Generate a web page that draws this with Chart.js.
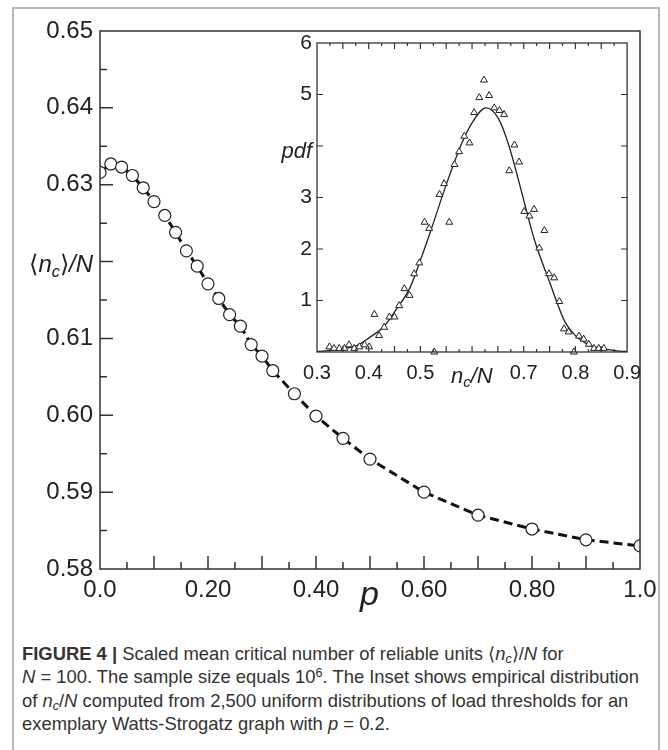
<!DOCTYPE html>
<html>
<head>
<meta charset="utf-8">
<script src="https://cdn.jsdelivr.net/npm/chart.js@4.4.1/dist/chart.umd.min.js"></script>
<style>
  body { margin: 0; background: #fff; }
  .page { position: relative; width: 668px; height: 750px; overflow: hidden; background: #fff; font-family: "Liberation Sans", Arial, sans-serif; color: #222; }
  .frame { position: absolute; left: 12px; top: 7px; width: 648px; height: 800px; border: 2px solid #b8b8b8; box-sizing: border-box; }
  canvas { position: absolute; }
  .lbl { position: absolute; line-height: 1; white-space: nowrap; font-style: italic; }
  .lbl sub, .caption sub { font-size: 0.68em; vertical-align: -0.28em; line-height: 0; }
  .caption sub { vertical-align: -0.2em; }
  .caption sup { font-size: 0.68em; vertical-align: 0.45em; line-height: 0; }
  .up { font-style: normal; }
  .caption { position: absolute; left: 22px; top: 642px; font-size: 18.4px; line-height: 23.3px; color: #333; white-space: nowrap; }
</style>
</head>
<body>
<div class="page">
  <div class="frame"></div>
  <canvas id="main" width="668" height="630" style="left:0;top:0;width:668px;height:630px"></canvas>
  <canvas id="inset" width="390" height="380" style="left:260px;top:20px;width:390px;height:380px"></canvas>

  <div class="lbl" style="right:575px;top:252px;font-size:24px"><span class="up">⟨</span>n<sub>c</sub><span class="up">⟩</span>/N</div>
  <div class="lbl" style="left:360px;top:576px;font-size:34px">p</div>
  <div class="lbl" style="right:356px;top:140px;font-size:22px">pdf</div>
  <div class="lbl" style="left:451px;top:365px;font-size:22px">n<sub>c</sub>/N</div>

  <div class="caption">
    <b>FIGURE 4 |</b> Scaled mean critical number of reliable units ⟨<i>n<sub>c</sub></i>⟩/<i>N</i> for<br>
    <i>N</i> = 100. The sample size equals 10<sup>6</sup>. The Inset shows empirical distribution<br>
    of <i>n<sub>c</sub></i>/<i>N</i> computed from 2,500 uniform distributions of load thresholds for an<br>
    exemplary Watts-Strogatz graph with <i>p</i> = 0.2.
  </div>
</div>

<script>
// main panel: scaled mean critical number vs rewiring probability p
const pValues = [0, 0.02, 0.04, 0.06, 0.08, 0.10, 0.12, 0.14, 0.16, 0.18, 0.20, 0.22, 0.24,
  0.26, 0.28, 0.30, 0.32, 0.36, 0.40, 0.45, 0.50, 0.60, 0.70, 0.80, 0.90, 1.0];
const meanNc = [0.6316, 0.6327, 0.6323, 0.6312, 0.6296, 0.6278, 0.6260, 0.6238, 0.6214, 0.6194,
  0.6171, 0.6152, 0.6131, 0.6116, 0.6092, 0.6077, 0.6058, 0.6028, 0.5999, 0.5970, 0.5943,
  0.5900, 0.5870, 0.5852, 0.5838, 0.5830];
const mainXLabels = { 0: "0.0", 0.2: "0.20", 0.4: "0.40", 0.6: "0.60", 0.8: "0.80", 1: "1.0" };
const mainYLabels = ["0.58", "0.59", "0.60", "0.61", "0.63", "0.64", "0.65"];

// inset: empirical pdf of n_c/N (p = 0.2) and fitted curve
const pdfX = [0.324, 0.333, 0.343, 0.353, 0.362, 0.372, 0.382, 0.392, 0.401, 0.411, 0.420, 0.430,
  0.440, 0.450, 0.459, 0.469, 0.479, 0.488, 0.498, 0.508, 0.517, 0.527, 0.537, 0.546, 0.556,
  0.566, 0.575, 0.585, 0.595, 0.604, 0.614, 0.623, 0.633, 0.643, 0.653, 0.662, 0.672, 0.682,
  0.691, 0.701, 0.711, 0.720, 0.730, 0.740, 0.749, 0.759, 0.769, 0.778, 0.787, 0.797, 0.807,
  0.816, 0.826, 0.836, 0.845, 0.855];
const pdfY = [0.10, 0.07, 0.07, 0.07, 0.14, 0.07, 0.10, 0.14, 0.10, 0.73, 0.32, 0.48,
  0.68, 0.68, 0.90, 1.23, 1.10, 1.52, 1.73, 2.52, 2.40, 0.00, 3.06, 3.27, 2.52,
  3.64, 3.89, 4.19, 4.06, 4.65, 4.94, 5.28, 4.98, 4.74, 4.69, 4.61, 3.52, 4.02,
  3.69, 2.73, 2.64, 2.77, 2.02, 2.36, 1.52, 1.44, 0.98, 0.45, 0.39, 0.00, 0.31,
  0.25, 0.15, 0.07, 0.07, 0.07];
const fitX = [0.30, 0.33, 0.35, 0.38, 0.40, 0.43, 0.45, 0.48, 0.50, 0.52, 0.55, 0.58, 0.60,
  0.627, 0.65, 0.67, 0.70, 0.72, 0.75, 0.78, 0.80, 0.83, 0.85, 0.88, 0.90];
const fitY = [0.01, 0.03, 0.06, 0.14, 0.27, 0.50, 0.78, 1.25, 1.78, 2.35, 3.25, 4.05, 4.45,
  4.74, 4.55, 4.05, 2.95, 2.20, 1.36, 0.58, 0.32, 0.12, 0.07, 0.02, 0.01];
const insetXLabels = { 0.3: "0.3", 0.4: "0.4", 0.5: "0.5", 0.7: "0.7", 0.8: "0.8", 0.9: "0.9" };
const insetYLabels = ["1", "2", "3", "5", "6"];

const ink = "#222";

function isMult(v, m) {
  const r = v / m;
  return Math.abs(r - Math.round(r)) < 1e-6;
}
function pick(obj, v) {
  for (const k in obj) if (Math.abs(+k - v) < 1e-6) return obj[k];
  return "";
}

// frame + inward ticks, like the original plot software
const frameTicks = {
  id: "frameTicks",
  beforeDraw(chart, args, o) {
    if (!o.fill) return;
    const a = chart.chartArea, ctx = chart.ctx;
    ctx.save();
    ctx.fillStyle = o.fill;
    ctx.fillRect(a.left, a.top, a.right - a.left, a.bottom - a.top);
    ctx.restore();
  },
  afterDraw(chart, args, o) {
    const a = chart.chartArea, ctx = chart.ctx;
    ctx.save();
    ctx.strokeStyle = o.color;
    ctx.lineWidth = o.width;
    ctx.strokeRect(a.left, a.top, a.right - a.left, a.bottom - a.top);
    ctx.lineWidth = o.tickWidth;
    ctx.beginPath();
    o.marks.forEach(m => {
      const s = chart.scales[m.axis];
      s.ticks.forEach(t => {
        const px = s.getPixelForValue(t.value);
        const len = isMult(t.value, m.major) ? m.long : m.short;
        m.sides.forEach(side => {
          if (side === "left" || side === "right") {
            if (px <= a.top + 1 || px >= a.bottom - 1) return;
            const x0 = side === "left" ? a.left : a.right;
            const d = side === "left" ? len : -len;
            ctx.moveTo(x0, px); ctx.lineTo(x0 + d, px);
          } else {
            if (px <= a.left + 1 || px >= a.right - 1) return;
            const y0 = side === "bottom" ? a.bottom : a.top;
            const d = side === "bottom" ? -len : len;
            ctx.moveTo(px, y0); ctx.lineTo(px, y0 + d);
          }
        });
      });
    });
    ctx.stroke();
    ctx.restore();
  }
};

Chart.defaults.font.family = '"Liberation Sans", Arial, sans-serif';
Chart.defaults.color = ink;

const noGrid = { display: false, drawTicks: false };

new Chart(document.getElementById("main"), {
  type: "scatter",
  data: {
    datasets: [{
      data: pValues.map((p, i) => ({ x: p, y: meanNc[i] })),
      showLine: true,
      borderColor: "#111",
      borderWidth: 3,
      borderDash: [9, 5],
      pointRadius: 6,
      pointBackgroundColor: "#fff",
      pointBorderColor: ink,
      pointBorderWidth: 1.2,
      clip: 0
    }]
  },
  options: {
    responsive: false,
    animation: false,
    devicePixelRatio: 1,
    layout: { padding: { left: 0, top: 31, right: 28, bottom: 0 } },
    plugins: {
      legend: { display: false },
      tooltip: { enabled: false },
      frameTicks: {
        color: "#333", width: 1.5, tickWidth: 1.5,
        marks: [
          { axis: "y", major: 0.01, long: 13, short: 7, sides: ["left"] },
          { axis: "x", major: 0.1, long: 13, short: 7, sides: ["bottom"] }
        ]
      }
    },
    scales: {
      x: {
        type: "linear", min: 0, max: 1,
        grid: noGrid, border: { display: false },
        afterFit: s => { s.height = 61; },
        ticks: {
          stepSize: 0.05, autoSkip: false, maxRotation: 0, padding: 7,
          font: { size: 24 },
          callback: v => pick(mainXLabels, v)
        }
      },
      y: {
        type: "linear", min: 0.58, max: 0.65,
        grid: noGrid, border: { display: false },
        afterFit: s => { s.width = 100; },
        ticks: {
          stepSize: 0.005, autoSkip: false, padding: 7,
          font: { size: 24 },
          callback: v => {
            const s = v.toFixed(2);
            return isMult(v, 0.01) && mainYLabels.includes(s) ? s : "";
          }
        }
      }
    }
  },
  plugins: [frameTicks]
});

new Chart(document.getElementById("inset"), {
  type: "scatter",
  data: {
    datasets: [{
      data: fitX.map((x, i) => ({ x: x, y: fitY[i] })),
      showLine: true,
      cubicInterpolationMode: "monotone",
      borderColor: ink,
      borderWidth: 1.3,
      pointRadius: 0,
      order: 2
    }, {
      data: pdfX.map((x, i) => ({ x: x, y: pdfY[i] })),
      pointStyle: "triangle",
      pointRadius: 4,
      pointBackgroundColor: "#fff",
      pointBorderColor: ink,
      pointBorderWidth: 1,
      clip: false,
      order: 1
    }]
  },
  options: {
    responsive: false,
    animation: false,
    devicePixelRatio: 1,
    layout: { padding: { left: 0, top: 23, right: 22, bottom: 0 } },
    plugins: {
      legend: { display: false },
      tooltip: { enabled: false },
      frameTicks: {
        fill: "#fff", color: "#333", width: 1.3, tickWidth: 1.2,
        marks: [
          { axis: "y", major: 1, long: 6, short: 6, sides: ["left", "right"] },
          { axis: "x", major: 0.05, long: 6, short: 3, sides: ["bottom", "top"] }
        ]
      }
    },
    scales: {
      x: {
        type: "linear", min: 0.3, max: 0.9,
        grid: noGrid, border: { display: false },
        afterFit: s => { s.height = 48; },
        ticks: {
          stepSize: 0.025, autoSkip: false, maxRotation: 0, padding: 9,
          font: { size: 20 },
          callback: v => pick(insetXLabels, v)
        }
      },
      y: {
        type: "linear", min: 0, max: 6,
        grid: noGrid, border: { display: false },
        afterFit: s => { s.width = 57; },
        ticks: {
          stepSize: 1, autoSkip: false, padding: 5,
          font: { size: 21 },
          callback: v => insetYLabels.includes(String(v)) ? String(v) : ""
        }
      }
    }
  },
  plugins: [frameTicks]
});
</script>
</body>
</html>
